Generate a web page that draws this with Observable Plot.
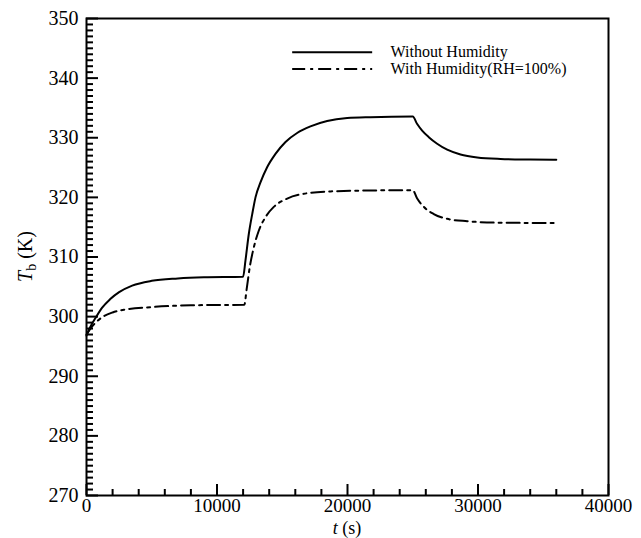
<!DOCTYPE html>
<html>
<head>
<meta charset="utf-8">
<script src="https://cdn.jsdelivr.net/npm/d3@7"></script>
<script src="https://cdn.jsdelivr.net/npm/@observablehq/plot@0.6"></script>
<style>
  body { margin: 0; background: white; }
  #chart svg { display: block; }
</style>
</head>
<body>
<div id="chart"></div>
<script>
// ---- data ----
const tDry = [0, 300, 700, 1200, 1800, 2500, 3500, 5000, 7000, 9000, 12000, 12180, 12440, 12700, 12950, 13330, 13850, 14480, 15250, 16140, 17160, 18440, 19980, 21760, 25000, 25340, 25720, 26230, 26870, 27640, 28660, 29940, 31720, 34000, 36000];
const TDry = [296.8, 298.3, 299.8, 301.5, 302.9, 304.1, 305.2, 306.0, 306.4, 306.6, 306.7, 309.4, 313.9, 317.2, 320.0, 322.5, 325.1, 327.3, 329.3, 330.8, 331.9, 332.8, 333.3, 333.45, 333.55, 332.3, 331.2, 330.1, 329.0, 328.0, 327.2, 326.7, 326.45, 326.35, 326.3];

const tWet = [0, 300, 700, 1200, 2000, 3000, 5000, 8000, 12100, 12260, 12510, 12820, 13200, 13720, 14350, 15380, 16650, 18700, 21500, 25000, 25340, 25850, 26610, 27640, 29170, 31720, 36000];
const TWet = [297.0, 298.0, 299.0, 299.9, 300.7, 301.2, 301.6, 301.9, 302.0, 304.4, 308.3, 311.6, 314.4, 316.7, 318.4, 319.8, 320.6, 321.0, 321.15, 321.2, 319.8, 318.4, 317.2, 316.4, 316.0, 315.75, 315.7];

const seriesNames = ["Without Humidity", "With Humidity(RH=100%)"];

const xMajor = [0, 10000, 20000, 30000, 40000];
const xMinor = [2000, 4000, 6000, 8000, 12000, 14000, 16000, 18000, 22000, 24000, 26000, 28000, 32000, 34000, 36000, 38000];
const yMajor = [270, 280, 290, 300, 310, 320, 330, 340, 350];
const yMinor = d3.range(271, 350).filter(v => v % 10 !== 0);

// legend placement (data units)
const legendX = [15760, 21890];
const legendY = [344.35, 341.55];
const legendTextX = 23300;

// ---- build ----
const dry = tDry.map((t, i) => ({t, T: TDry[i]}));
const wet = tWet.map((t, i) => ({t, T: TWet[i]}));
const legend = seriesNames.map((name, i) => ({name, y: legendY[i], dash: i === 0 ? null : "13,5,3,5"}));

const W = 641, H = 538;
const mL = 86, mR = 33, mT = 18, mB = 43;
const innerW = W - mL - mR, innerH = H - mT - mB;
const font = "Liberation Serif";

const chart = Plot.plot({
  width: W, height: H,
  marginLeft: mL, marginRight: mR, marginTop: mT, marginBottom: mB,
  style: {fontFamily: font, background: "white", color: "black"},
  x: {domain: [0, 40000]},
  y: {domain: [270, 350]},
  marks: [
    Plot.tickX(xMinor, {x: d => d, insetTop: innerH - 6, strokeWidth: 2}),
    Plot.tickX(xMajor, {x: d => d, insetTop: innerH - 11, strokeWidth: 2}),
    Plot.tickY(yMinor, {y: d => d, insetRight: innerW - 7, strokeWidth: 2}),
    Plot.tickY(yMajor, {y: d => d, insetRight: innerW - 12, strokeWidth: 2}),
    Plot.axisX(xMajor, {tickSize: 0, tickPadding: 3, fontSize: 19, fontFamily: font, label: null, tickFormat: d => String(d), fill: "black"}),
    Plot.axisY(yMajor, {tickSize: 0, tickPadding: 8, fontSize: 20, fontFamily: font, label: null, tickFormat: d => String(d), fill: "black"}),
    Plot.line(dry, {x: "t", y: "T", stroke: "black", strokeWidth: 2, curve: "monotone-x"}),
    Plot.line(wet, {x: "t", y: "T", stroke: "black", strokeWidth: 2, curve: "monotone-x", strokeDasharray: "13,5,3,5"}),
    Plot.link(legend.filter(d => !d.dash), {x1: legendX[0], x2: legendX[1], y1: "y", y2: "y", stroke: "black", strokeWidth: 2}),
    Plot.link(legend.filter(d => d.dash), {x1: legendX[0], x2: legendX[1], y1: "y", y2: "y", stroke: "black", strokeWidth: 2, strokeDasharray: "13,5,3,5"}),
    Plot.text(legend, {x: legendTextX, y: "y", text: "name", textAnchor: "start", fontSize: 16, fontFamily: font, fill: "black"}),
    Plot.frame({stroke: "black", strokeWidth: 2})
  ]
});

const svg = d3.select(chart);
const xs = chart.scale("x");
const xc = xs.apply(20000);

// x-axis title: t (s)
const xt = svg.append("text")
  .attr("x", xc).attr("y", 534)
  .attr("text-anchor", "middle")
  .attr("font-family", font).attr("font-size", 18).attr("fill", "black");
xt.append("tspan").attr("font-style", "italic").text("t");
xt.append("tspan").text(" (s)");

// y-axis title: T_b (K)
const yc = (mT + H - mB) / 2;
const yt = svg.append("text")
  .attr("transform", `translate(32,${yc}) rotate(-90)`)
  .attr("text-anchor", "middle")
  .attr("font-family", font).attr("font-size", 20).attr("fill", "black");
yt.append("tspan").attr("font-style", "italic").text("T");
yt.append("tspan").attr("font-size", 14).attr("dy", 4).text("b");
yt.append("tspan").attr("dy", -4).text(" (K)");

document.getElementById("chart").appendChild(chart);
</script>
</body>
</html>
